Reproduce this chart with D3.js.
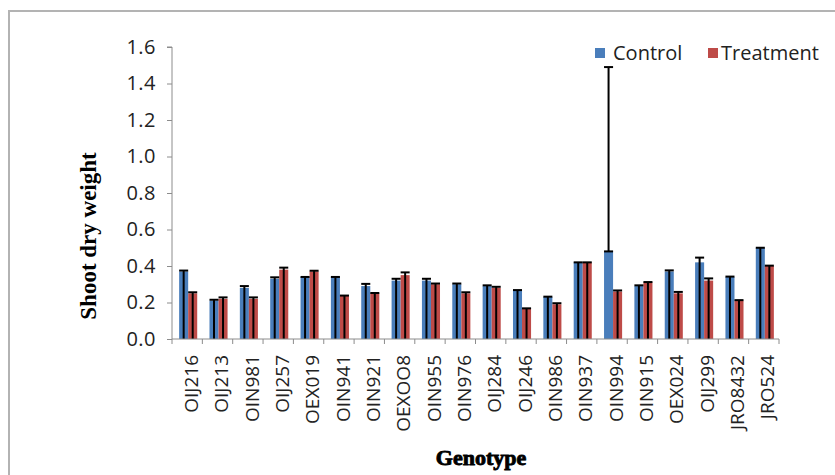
<!DOCTYPE html>
<html>
<head>
<meta charset="utf-8">
<script src="https://cdn.jsdelivr.net/npm/d3@7"></script>
<style>
  html, body { margin: 0; padding: 0; background: #fff; }
  svg { display: block; }
</style>
</head>
<body>
<svg id="chart" width="835" height="475"></svg>
<script>
// Shoot dry weight per genotype, control vs treatment
const genotypes = ["OIJ216","OIJ213","OIN981","OIJ257","OEX019","OIN941","OIN921","OEXOO8","OIN955","OIN976",
                   "OIJ284","OIJ246","OIN986","OIN937","OIN994","OIN915","OEX024","OIJ299","JRO8432","JRO524"];
const seriesNames = ["Control", "Treatment"];

const controlValues   = [0.37,0.21,0.28,0.33,0.34,0.34,0.29,0.32,0.32,0.30,0.29,0.27,0.23,0.42,0.48,0.29,0.37,0.42,0.34,0.50];
const treatmentValues = [0.25,0.22,0.22,0.38,0.37,0.24,0.25,0.35,0.30,0.25,0.28,0.17,0.19,0.42,0.26,0.31,0.25,0.32,0.21,0.40];

// upper end of each error bar (value + error)
const controlHigh   = [0.375,0.215,0.29,0.338,0.34,0.34,0.302,0.33,0.33,0.304,0.294,0.268,0.232,0.42,1.49,0.294,0.376,0.446,0.342,0.50];
const treatmentHigh = [0.256,0.228,0.228,0.391,0.374,0.238,0.252,0.365,0.304,0.256,0.286,0.168,0.196,0.42,0.266,0.312,0.258,0.332,0.213,0.402];
// lower end of each error bar
const controlLow   = [0,0,0,0,0,0,0,0,0,0,0,0,0,0,0.48,0,0,0,0,0];
const treatmentLow = [0,0,0,0,0,0,0,0,0,0,0,0,0,0,0,0,0,0,0,0];

const yTicks = [0, 0.2, 0.4, 0.6, 0.8, 1.0, 1.2, 1.4, 1.6];
const colors = { Control: "#4a7ebb", Treatment: "#be4b48" };

const svg = d3.select("#chart");
const W = 835, H = 475;
const plotLeft = 172, plotRight = 779, plotTop = 47, plotBottom = 339;
const labelFont = "'Open Sans', sans-serif";
const titleFont = "'Liberation Serif', 'Times New Roman', serif";

// outer chart frame
svg.append("rect").attr("x", 9).attr("y", 11).attr("width", W + 20).attr("height", H + 20)
  .attr("fill", "#fff").attr("stroke", "#b3b3b3").attr("stroke-width", 2);

const x = d3.scaleBand().domain(genotypes).range([plotLeft, plotRight]).paddingInner(0).paddingOuter(0);
const xs = d3.scaleBand().domain(seriesNames).range([0, x.bandwidth()]).paddingInner(0).paddingOuter(0.68);
const y = d3.scaleLinear().domain([0, 1.6]).range([plotBottom, plotTop]);

const rows = genotypes.map((g, i) => ({
  g,
  items: [
    { s: "Control", v: controlValues[i], hi: controlHigh[i], lo: controlLow[i] },
    { s: "Treatment", v: treatmentValues[i], hi: treatmentHigh[i], lo: treatmentLow[i] }
  ]
}));

// bars
const groups = svg.append("g").selectAll("g").data(rows).join("g")
  .attr("transform", d => `translate(${x(d.g) + 1},0)`);

groups.selectAll("rect").data(d => d.items).join("rect")
  .attr("x", d => xs(d.s))
  .attr("y", d => y(d.v))
  .attr("width", xs.bandwidth())
  .attr("height", d => y(0) - y(d.v))
  .attr("fill", d => colors[d.s]);

// error bars
const eb = groups.selectAll("g.err").data(d => d.items).join("g").attr("class", "err")
  .attr("transform", d => `translate(${xs(d.s) + xs.bandwidth() / 2},0)`);
eb.append("line").attr("x1", 0).attr("x2", 0)
  .attr("y1", d => y(d.lo)).attr("y2", d => y(d.hi))
  .attr("stroke", "#000").attr("stroke-width", 2);
eb.append("line").attr("x1", -xs.bandwidth() / 2).attr("x2", xs.bandwidth() / 2)
  .attr("y1", d => y(d.hi)).attr("y2", d => y(d.hi))
  .attr("stroke", "#000").attr("stroke-width", 2);
eb.filter(d => d.lo > 0).append("line").attr("x1", -xs.bandwidth() / 2).attr("x2", xs.bandwidth() / 2)
  .attr("y1", d => y(d.lo)).attr("y2", d => y(d.lo))
  .attr("stroke", "#000").attr("stroke-width", 2);

// y axis
const yAxis = svg.append("g").attr("transform", `translate(${plotLeft},0)`)
  .call(d3.axisLeft(y).tickValues(yTicks).tickFormat(d3.format(".1f")).tickSize(5).tickPadding(11));
yAxis.select(".domain").attr("stroke", "#8c8c8c").attr("d", `M-5,${plotTop}H0V${plotBottom}`);
yAxis.selectAll(".tick line").attr("stroke", "#8c8c8c");
yAxis.selectAll(".tick text").attr("font-family", labelFont).attr("font-size", 20)
  .attr("letter-spacing", 0.5).attr("fill", "#222");

// x axis: baseline with ticks between categories
const xAxis = svg.append("g");
xAxis.append("line").attr("x1", plotLeft).attr("x2", plotRight).attr("y1", plotBottom).attr("y2", plotBottom)
  .attr("stroke", "#8c8c8c");
xAxis.selectAll("line.tk").data(genotypes.concat([null])).join("line").attr("class", "tk")
  .attr("x1", (d, i) => i < genotypes.length ? x(d) : plotRight)
  .attr("x2", (d, i) => i < genotypes.length ? x(d) : plotRight)
  .attr("y1", plotBottom).attr("y2", plotBottom + 5).attr("stroke", "#8c8c8c");
xAxis.selectAll("text").data(genotypes).join("text")
  .attr("transform", d => `translate(${x(d) + x.bandwidth() / 2 + 4},${plotBottom + 16}) rotate(-90)`)
  .attr("text-anchor", "end").attr("dy", "0.35em")
  .attr("font-family", labelFont).attr("font-size", 19).attr("fill", "#222")
  .text(d => d);

// axis titles
svg.append("text").attr("transform", "translate(88,236) rotate(-90)")
  .attr("text-anchor", "middle").attr("dy", "0.35em")
  .attr("font-family", titleFont).attr("font-weight", "bold")
  .attr("font-size", 23).attr("fill", "#000").text("Shoot dry weight");
svg.append("text").attr("x", 481).attr("y", 457).attr("text-anchor", "middle").attr("dy", "0.35em")
  .attr("font-family", titleFont).attr("font-weight", "bold")
  .attr("font-size", 22).attr("fill", "#000").attr("stroke", "#000").attr("stroke-width", 0.9)
  .text("Genotype");

// legend
const legendPos = [{ s: "Control", x: 595, tx: 613 }, { s: "Treatment", x: 708, tx: 721 }];
const lg = svg.append("g").selectAll("g").data(legendPos).join("g");
lg.append("rect").attr("x", d => d.x).attr("y", 48).attr("width", 10).attr("height", 10)
  .attr("fill", d => colors[d.s]);
lg.append("text").attr("x", d => d.tx).attr("y", 53).attr("dy", "0.35em")
  .attr("font-family", labelFont).attr("font-size", 20).attr("fill", "#222")
  .text(d => d.s);
</script>
</body>
</html>
